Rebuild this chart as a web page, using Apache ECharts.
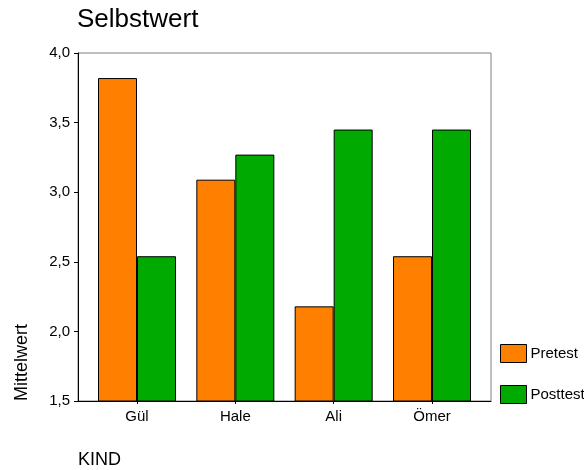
<!DOCTYPE html>
<html>
<head>
<meta charset="utf-8">
<script src="https://cdn.jsdelivr.net/npm/echarts@6/dist/echarts.min.js"></script>
<style>
	html,body{margin:0;padding:0;background:#fff;}
	#chart{width:584px;height:470px;}
</style>
</head>
<body>
<div id="chart"></div>
<script>
var kinder = ['Gül', 'Hale', 'Ali', 'Ömer'];
var pretest = [3.82, 3.09, 2.18, 2.54];
var posttest = [2.54, 3.27, 3.45, 3.45];

function pairs(values){
	return values.map(function(v, i){ return [i, v]; });
}

var myChart = echarts.init(document.getElementById('chart'));
var font = 'Liberation Sans, Arial, sans-serif';

var option = {
	animation: false,
	color: ['#ff8000', '#00aa00'],
	title: [{
		text: 'Selbstwert',
		left: 72, top: 2,
		textStyle: { fontFamily: font, fontSize: 26, fontWeight: 'normal', color: '#000' }
	}, {
		text: 'KIND',
		left: 73, top: 446,
		textStyle: { fontFamily: font, fontSize: 18, fontWeight: 'normal', color: '#000' }
	}],
	legend: {
		orient: 'vertical',
		left: 495, top: 339,
		itemWidth: 26, itemHeight: 18, itemGap: 22,
		icon: 'rect',
		textStyle: { fontFamily: font, fontSize: 15, color: '#000', padding: [0, 0, 0, -1] },
		itemStyle: { borderColor: '#000', borderWidth: 1 },
		data: ['Pretest', 'Posttest']
	},
	grid: {
		left: 78, top: 53, width: 413, height: 348,
		show: true, borderColor: '#808080', borderWidth: 1
	},
	xAxis: {
		type: 'value',
		min: -0.6, max: 3.6,
		splitLine: { show: false },
		axisLine: { show: true, onZero: false, lineStyle: { color: '#000' } },
		axisTick: { show: true, length: 3, customValues: [0, 1, 2, 3], lineStyle: { color: '#000' } },
		axisLabel: {
			customValues: [0, 1, 2, 3], margin: 8,
			fontFamily: font, fontSize: 15, color: '#000',
			formatter: function(v){ return kinder[Math.round(v)]; }
		}
	},
	yAxis: {
		type: 'value',
		min: 1.5, max: 4.0, interval: 0.5,
		splitLine: { show: false },
		axisLine: { show: true, onZero: false, lineStyle: { color: '#000' } },
		axisTick: { show: true, length: 4, lineStyle: { color: '#000' } },
		axisLabel: {
			margin: 8, fontFamily: font, fontSize: 15, color: '#000',
			formatter: function(v){ return v.toFixed(1).replace('.', ','); }
		}
	},
	graphic: [{
		type: 'text',
		x: 22, y: 401,
		rotation: Math.PI / 2,
		style: {
			text: 'Mittelwert', fill: '#000',
			font: '18px Liberation Sans, Arial, sans-serif',
			textAlign: 'left', textVerticalAlign: 'middle'
		}
	}],
	series: [{
		name: 'Pretest', type: 'bar',
		barWidth: 39, barGap: '0%',
		itemStyle: { borderColor: '#000', borderWidth: 1 },
		data: pairs(pretest)
	}, {
		name: 'Posttest', type: 'bar',
		barWidth: 39, barGap: '0%',
		itemStyle: { borderColor: '#000', borderWidth: 1 },
		data: pairs(posttest)
	}]
};

myChart.setOption(option);
</script>
</body>
</html>
